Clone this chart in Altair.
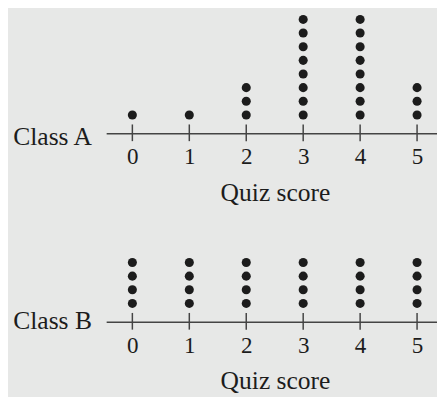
import altair as alt
import pandas as pd

scores = [0, 1, 2, 3, 4, 5]
class_a_counts = [1, 1, 3, 8, 8, 3]
class_b_counts = [4, 4, 4, 4, 4, 4]
class_labels = ["Class A", "Class B"]
x_title = "Quiz score"

FONT = "Liberation Serif"
BG = "#e7e8e7"
INK = "#1c1c1c"
LINE = "#444444"
W, H = 337, 124


def dots(counts):
    rows = []
    for s, c in zip(scores, counts):
        for k in range(1, c + 1):
            rows.append({"score": s, "stack": k})
    return pd.DataFrame(rows)


def panel(counts, label, label_y):
    df = dots(counts)
    ticks_df = pd.DataFrame({"score": scores})
    x = alt.X(
        "score:Q",
        scale=alt.Scale(domain=[-0.46, 5.35], nice=False, zero=False),
        axis=alt.Axis(
            values=scores, format="d", title=x_title, ticks=False, tickSize=0, grid=False,
            domainColor=LINE, domainWidth=1.5, labelFont=FONT, labelFontSize=23.5,
            labelColor=INK, labelBaseline="alphabetic", labelPadding=31, labelFlush=False,
            titleFont=FONT, titleFontSize=26, titleFontWeight="normal", titleColor=INK,
            titleBaseline="alphabetic", titleY=68, titleX=172, titleAlign="center",
        ),
    )
    y = alt.Y(
        "stack:Q",
        scale=alt.Scale(domain=[-0.345, 8.576], nice=False, zero=False),
        axis=alt.Axis(
            title=label, titleAngle=0, titleAlign="right", titleBaseline="alphabetic",
            titleX=-15, titleY=label_y, titleFont=FONT, titleFontSize=26,
            titleFontWeight="normal", titleColor=INK, domain=False, ticks=False,
            labels=False, grid=False,
        ),
    )
    pts = alt.Chart(df).mark_circle(size=85, color=INK, opacity=1).encode(x=x, y=y)
    tk = alt.Chart(ticks_df).mark_rule(color=LINE, strokeWidth=1.5).encode(
        x=x, y=alt.value(H - 9), y2=alt.value(H + 8)
    )
    return alt.layer(pts, tk).properties(width=W, height=H)


top = panel(class_a_counts, class_labels[0], 135)
bottom = panel(class_b_counts, class_labels[1], 130.7)

chart = (
    alt.vconcat(top, bottom, spacing=68, bounds="flush")
    .properties(padding={"left": 3, "top": 0, "right": 0, "bottom": 0})
    .configure(background=BG, font=FONT)
    .configure_view(stroke=None)
)

chart.save("out.html", embed_options={"renderer": "svg", "actions": False})
